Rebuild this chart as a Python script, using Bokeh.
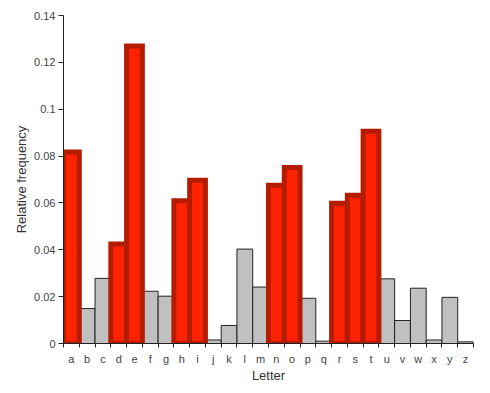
from bokeh.plotting import figure
from bokeh.models import FixedTicker, Range1d, ColumnDataSource
from bokeh.embed import file_html
from bokeh.resources import INLINE

letters = list("abcdefghijklmnopqrstuvwxyz")
freq = [0.0817, 0.0149, 0.0278, 0.0425, 0.1270, 0.0223, 0.0202, 0.0609, 0.0697,
        0.0015, 0.0077, 0.0403, 0.0241, 0.0675, 0.0751, 0.0193, 0.0010, 0.0599,
        0.0633, 0.0906, 0.0276, 0.0098, 0.0236, 0.0015, 0.0197, 0.0007]
highlight = list("adehinorst")
y_ticks = [0, 0.02, 0.04, 0.06, 0.08, 0.1, 0.12, 0.14]
y_tick_labels = ["0", "0.02", "0.04", "0.06", "0.08", "0.1", "0.12", "0.14"]

xs = [i + 0.5 for i in range(len(letters))]
src_all = ColumnDataSource(dict(x=xs, top=freq))
hx = [xs[letters.index(l)] for l in highlight]
ht = [freq[letters.index(l)] for l in highlight]
src_hi = ColumnDataSource(dict(x=hx, top=ht))

p = figure(width=488, height=391, output_backend="svg", toolbar_location=None,
           x_range=Range1d(0, 26), y_range=Range1d(0, 0.14),
           min_border_left=63, min_border_right=15, min_border_top=15, min_border_bottom=48)
p.outline_line_color = None
p.grid.visible = False
p.background_fill_color = "white"
p.border_fill_color = "white"

p.vbar(x="x", top="top", bottom=0, width=1, source=src_all,
       fill_color="#c0c0c0", line_color="#222222", line_width=1)
p.vbar(x="x", top="top", bottom=0, width=1, source=src_hi,
       fill_color="#ff2200", line_color="#b41c00", line_width=5, line_join="miter")

font = "Liberation Sans"
# x axis
p.xaxis.ticker = FixedTicker(ticks=xs, minor_ticks=list(range(27)))
p.xaxis.major_label_overrides = {x: l for x, l in zip(xs, letters)}
p.xaxis.major_tick_out = 0
p.xaxis.major_tick_in = 0
p.xaxis.minor_tick_out = 4
p.xaxis.minor_tick_in = 0
p.xaxis.minor_tick_line_color = "#222222"
p.xaxis.major_label_standoff = 5
p.xaxis.axis_label = "Letter"
# y axis
p.yaxis.ticker = FixedTicker(ticks=y_ticks, minor_ticks=[])
p.yaxis.major_label_overrides = {t: s for t, s in zip(y_ticks, y_tick_labels)}
p.yaxis.major_tick_out = 5
p.yaxis.major_tick_in = 0
p.yaxis.major_label_standoff = 3
p.yaxis.axis_label = "Relative frequency"

for ax in (p.xaxis, p.yaxis):
    ax.axis_line_color = "#222222"
    ax.major_tick_line_color = "#222222"
    ax.major_label_text_font = font
    ax.major_label_text_font_size = "11px"
    ax.major_label_text_color = "#444444"
    ax.axis_label_text_font = font
    ax.axis_label_text_font_size = "13px"
    ax.axis_label_text_font_style = "normal"
    ax.axis_label_text_color = "#333333"
p.xaxis.axis_label_standoff = 0
p.yaxis.axis_label_standoff = 2

open("out.html", "w").write(file_html(p, INLINE))
